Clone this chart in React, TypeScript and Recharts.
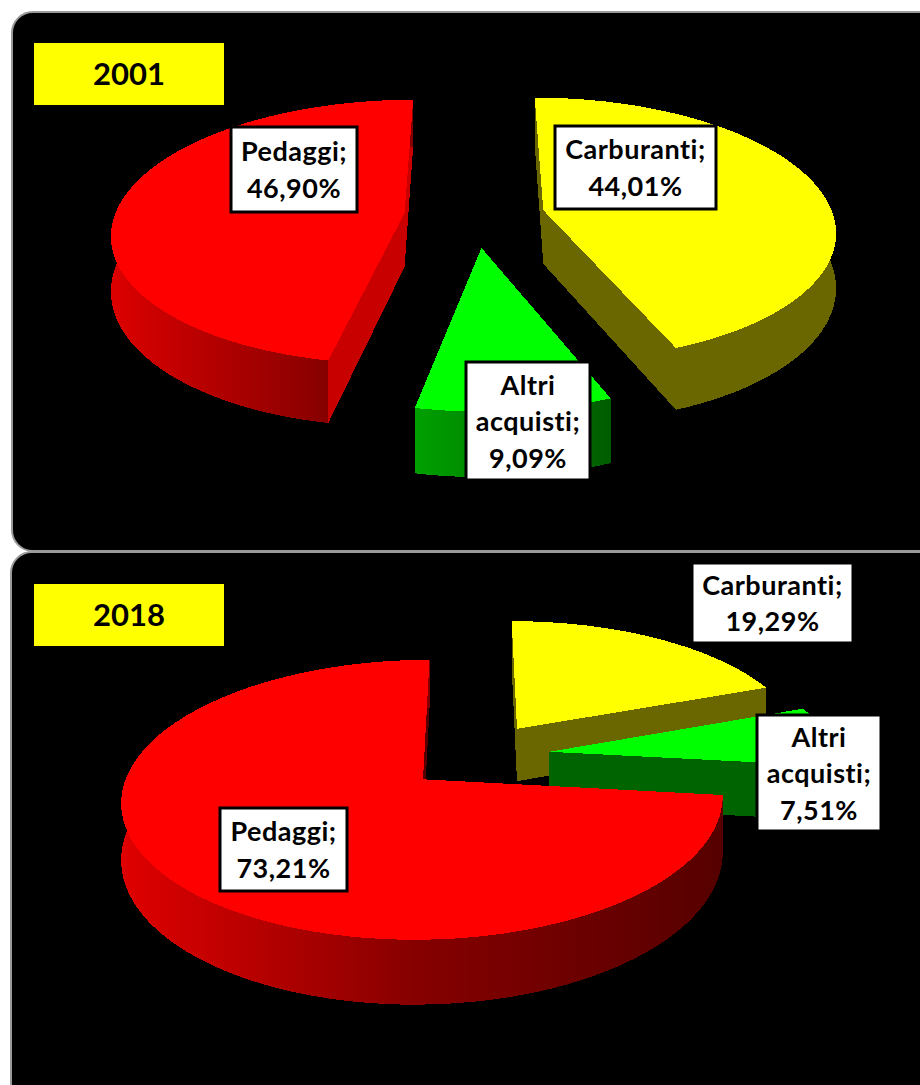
import { PieChart, Pie } from 'recharts'

const categories = ['Carburanti', 'Altri acquisti', 'Pedaggi']
const values2001 = [44.01, 9.09, 46.9]
const values2018 = [19.29, 7.51, 73.21]

const topColors: Record<string, string> = {
  Carburanti: '#ffff00',
  'Altri acquisti': '#00ff00',
  Pedaggi: '#ff0000',
}

const FONT = 'Lato, Carlito, sans-serif'
const RADIUS = 290
const TILT = 0.449
const PERSPECTIVE = 2032
const DEPTH = 54
const CHART_WIDTH = 920

type Box = { x: number; y: number; w: number; h: number }
type Wall = { x1: number; x2: number; stops: string[]; cut: string; nudge: number }

interface YearConfig {
  year: string
  values: number[]
  top: number
  height: number
  cy: number
  explode: number
  boxes: Record<string, Box>
  walls: Record<string, Wall>
}

const year2001: YearConfig = {
  year: '2001',
  values: values2001,
  top: 0,
  height: 552,
  cy: 216,
  explode: 69,
  boxes: {
    Carburanti: { x: 555, y: 126, w: 161, h: 83 },
    'Altri acquisti': { x: 466, y: 362, w: 124, h: 118 },
    Pedaggi: { x: 231, y: 127, w: 126, h: 85 },
  },
  walls: {
    Carburanti: { x1: 540, x2: 835, stops: ['#6b6700', '#6b6700'], cut: '#6b6700', nudge: 2 },
    'Altri acquisti': { x1: 415, x2: 610, stops: ['#00a000', '#005c00'], cut: '#008000', nudge: 1 },
    Pedaggi: { x1: 112, x2: 330, stops: ['#dc0000', '#850000'], cut: '#c80000', nudge: -1 },
  },
}

const year2018: YearConfig = {
  year: '2018',
  values: values2018,
  top: 552,
  height: 533,
  cy: 204,
  explode: 76,
  boxes: {
    Carburanti: { x: 692, y: 11, w: 161, h: 80 },
    'Altri acquisti': { x: 757, y: 163, w: 124, h: 116 },
    Pedaggi: { x: 220, y: 256, w: 127, h: 83 },
  },
  walls: {
    Carburanti: { x1: 517, x2: 766, stops: ['#6b6700', '#6b6700'], cut: '#6b6700', nudge: 1 },
    'Altri acquisti': { x1: 549, x2: 840, stops: ['#006400', '#006400'], cut: '#006400', nudge: 0 },
    Pedaggi: { x1: 120, x2: 720, stops: ['#e00000', '#850000', '#560000'], cut: '#560000', nudge: 7 },
  },
}

const toPath = (pts: number[][]) => 'M' + pts.map((p) => `${p[0].toFixed(1)},${p[1].toFixed(1)}`).join('L') + 'Z'

// pie drawn as a tilted disc with some perspective, the way the 3D chart in the picture looks
function makeSliceShape(cfg: YearConfig) {
  return function SliceShape(props: any) {
    const { cx, cy, startAngle, endAngle, midAngle, outerRadius, name } = props
    const rad = Math.PI / 180
    const wall = cfg.walls[name]
    const ex = cfg.explode * Math.cos(midAngle * rad) + wall.nudge
    const ev = -cfg.explode * Math.sin(midAngle * rad)

    const project = (px: number, pv: number, lift = 0) => {
      const s = 1 / (1 - pv / PERSPECTIVE)
      return [cx + px * s, cy + TILT * pv * s + lift * s]
    }
    const apex = (lift = 0) => project(ex, ev, lift)
    const arc = (lift = 0) => {
      const pts: number[][] = []
      const steps = Math.ceil(Math.abs(endAngle - startAngle))
      for (let i = 0; i <= steps; i++) {
        const a = (startAngle + ((endAngle - startAngle) * i) / steps) * rad
        pts.push(project(ex + outerRadius * Math.cos(a), ev - outerRadius * Math.sin(a), lift))
      }
      return pts
    }

    const topArc = arc()
    const lowArc = arc(DEPTH)
    const id = `wall-${cfg.year}-${name.replace(' ', '-')}`

    return (
      <g shapeRendering="crispEdges">
        <defs>
          <linearGradient id={id} gradientUnits="userSpaceOnUse" x1={wall.x1} y1="0" x2={wall.x2} y2="0">
            {wall.stops.map((c, i) => (
              <stop key={i} offset={i / (wall.stops.length - 1)} stopColor={c} />
            ))}
          </linearGradient>
        </defs>
        <path d={toPath([topArc[0], apex(), apex(DEPTH), lowArc[0]])} fill={wall.cut} />
        <path d={toPath([topArc[topArc.length - 1], apex(), apex(DEPTH), lowArc[lowArc.length - 1]])} fill={wall.cut} />
        <path d={toPath([...topArc, ...lowArc.slice().reverse()])} fill={`url(#${id})`} />
        <path d={toPath([apex(), ...topArc])} fill={topColors[name]} />
      </g>
    )
  }
}

function makeLabel(cfg: YearConfig) {
  return function SliceLabel(props: any) {
    const { name, value } = props
    const box = cfg.boxes[name]
    const lines = [...name.split(' ')]
    lines[lines.length - 1] += ';'
    lines.push(value.toFixed(2).replace('.', ',') + '%')
    const lineHeight = 36.5
    const first = box.y + box.h / 2 - ((lines.length - 1) * lineHeight) / 2 + 10
    return (
      <g>
        <rect x={box.x} y={box.y} width={box.w} height={box.h} fill="#ffffff" stroke="#000000" strokeWidth={3} />
        <text
          textAnchor="middle"
          fontFamily={FONT}
          fontWeight={700}
          fontSize={27}
          letterSpacing={0.5}
          fill="#000000"
          style={{ fontVariantLigatures: 'none' }}
        >
          {lines.map((l: string, i: number) => (
            <tspan key={i} x={box.x + box.w / 2} y={first + i * lineHeight}>
              {l}
            </tspan>
          ))}
        </text>
      </g>
    )
  }
}

function YearPie({ cfg }: { cfg: YearConfig }) {
  const data = categories.map((name, i) => ({ name, value: cfg.values[i], fill: topColors[name] }))
  return (
    <div style={{ position: 'absolute', left: 0, top: cfg.top, width: CHART_WIDTH, height: cfg.height }}>
      <PieChart width={CHART_WIDTH} height={cfg.height} margin={{ top: 0, right: 0, bottom: 0, left: 0 }}>
        <Pie
          data={data}
          dataKey="value"
          nameKey="name"
          cx={474}
          cy={cfg.cy}
          outerRadius={RADIUS}
          startAngle={90}
          endAngle={-270}
          stroke="none"
          shape={makeSliceShape(cfg)}
          label={makeLabel(cfg)}
          labelLine={false}
          isAnimationActive={false}
        />
      </PieChart>
    </div>
  )
}

const panelStyle = {
  position: 'absolute',
  background: '#000000',
  border: '2.5px solid #9a9a9a',
  boxSizing: 'border-box',
} as const

const titleStyle = {
  position: 'absolute',
  left: 34,
  width: 190,
  height: 62,
  background: '#ffff00',
  color: '#000000',
  fontFamily: FONT,
  fontWeight: 700,
  fontSize: 31,
  lineHeight: '60px',
  textAlign: 'center',
} as const

export default function App() {
  return (
    <div style={{ position: 'absolute', left: 0, top: 0, width: 920, height: 1085, overflow: 'hidden', background: '#ffffff' }}>
      <div style={{ ...panelStyle, left: 11, top: 11, width: 960, height: 541, borderRadius: 22 }} />
      <div style={{ ...panelStyle, left: 10, top: 551, width: 960, height: 600, borderRadius: 22 }} />
      <YearPie cfg={year2001} />
      <YearPie cfg={year2018} />
      <div style={{ ...titleStyle, top: 43 }}>2001</div>
      <div style={{ ...titleStyle, top: 584 }}>2018</div>
    </div>
  )
}
